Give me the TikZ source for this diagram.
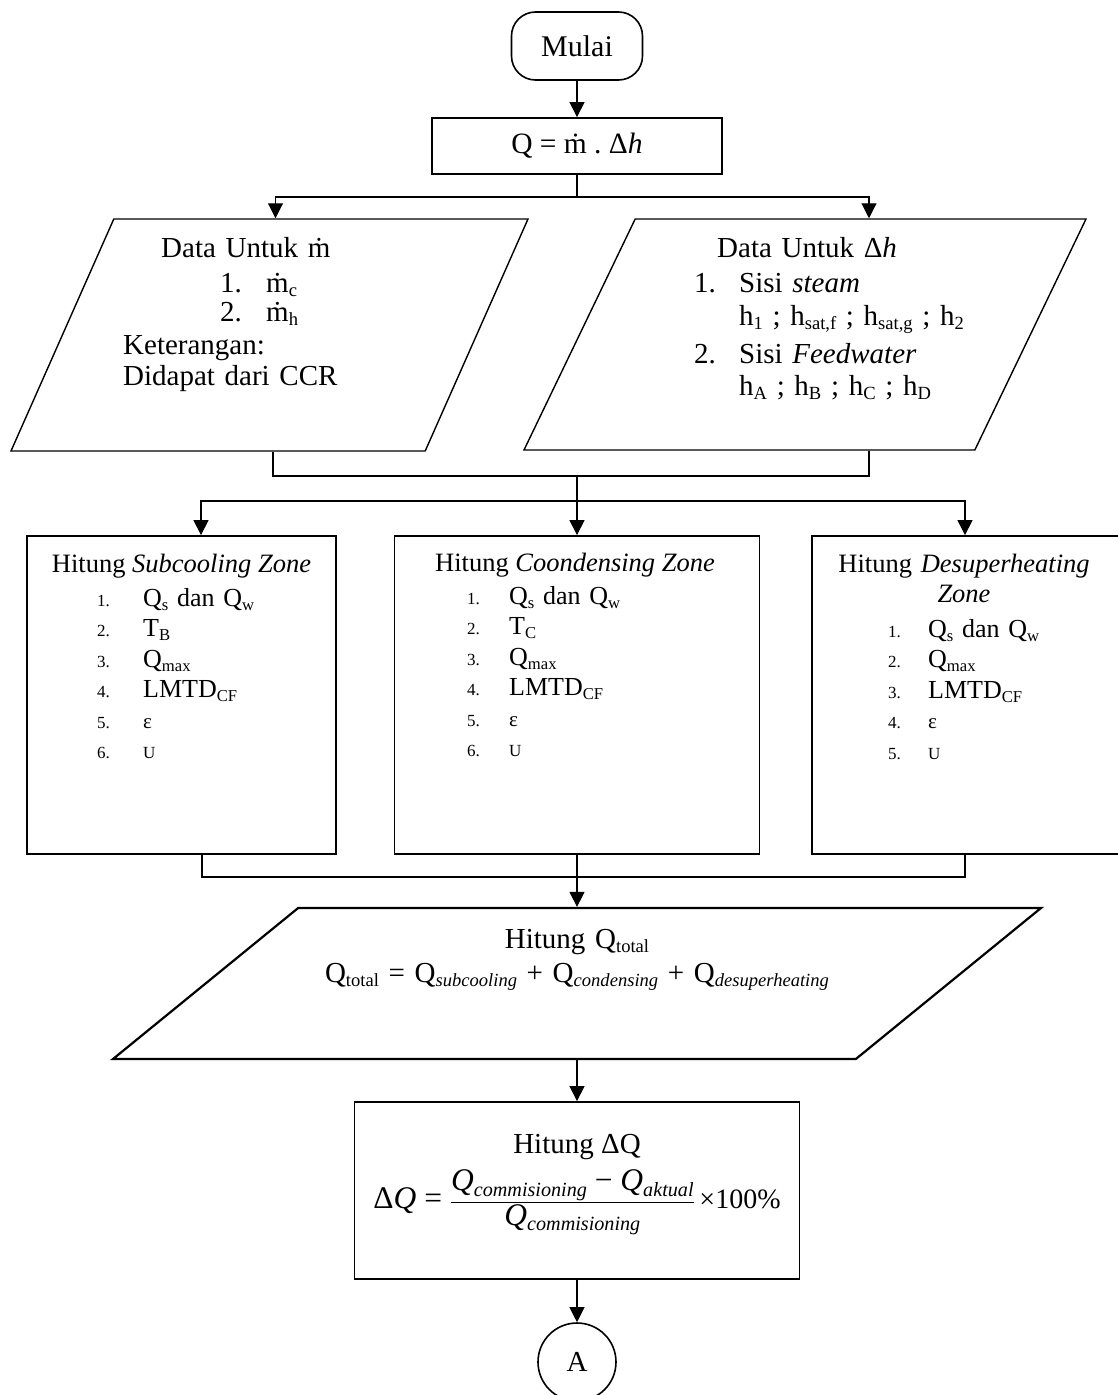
\documentclass[tikz,border=0pt]{standalone}
\usepackage{fontspec}
\setmainfont{Liberation Serif}
\usetikzlibrary{shapes.geometric, arrows.meta, positioning}

\newcommand\mdot{\accent"02D9 m}
\newcommand\fs[1]{\fontsize{#1}{#1}\selectfont}
\newcommand\itemno[2]{\makebox[#1][l]{\fontsize{17}{17}\selectfont #2}}
\makeatletter
\newcommand\lo[1]{\raisebox{-0.17em}{\fontsize{\strip@pt\dimexpr0.64\dimexpr\f@size pt\relax\relax}{0}\selectfont #1}}
\makeatother

\tikzstyle{terminal} = [rectangle, draw, line width=1.6pt, rounded corners=24pt,
                        minimum width=131pt, minimum height=68pt, font=\fs{30}]
\tikzstyle{process}  = [rectangle, draw, line width=1.8pt, inner sep=0pt]
\tikzstyle{io}       = [trapezium, draw, line width=1.4pt, trapezium stretches body, inner sep=0pt]
\tikzstyle{txt}      = [inner sep=0pt, anchor=base west, align=left]
\tikzstyle{arrow}    = [-{Triangle[length=15pt, width=15pt]}, line width=1.1pt]
\tikzstyle{link}     = [line width=1.1pt]

\begin{document}
\begin{tikzpicture}[x=1pt, y=-1pt]
  \useasboundingbox (0,0) rectangle (1118,1395);

  % Start
  \node[terminal] (mulai) at (577,46) {Mulai};
  \node[process, minimum width=290pt, minimum height=56pt, font=\fs{29.5}] (qbox) at (577,146)
    {Q = \mdot\ .\ Δ\textit{h}};

  % Input data
  \node[io, trapezium left angle=66.1, trapezium right angle=113.9,
        minimum width=517pt] (dm) at (269.5,335) {\rule{0pt}{232pt}};
  \node[io, trapezium left angle=64.3, trapezium right angle=115.7,
        minimum width=562pt] (dh) at (805,334.5) {\rule{0pt}{231pt}};

  \node[txt, text width=330pt, font=\fontsize{29}{28}\selectfont] (dmt) at (123,257)
    {\hspace*{38pt}Data Untuk \mdot\\[7pt]
     \hspace*{97pt}\makebox[46pt][l]{1.}\mdot\lo{c}\\[1pt]
     \hspace*{97pt}\makebox[46pt][l]{2.}\mdot\lo{h}\\[5pt]
     Keterangan:\\[3pt]
     Didapat dari CCR};
  \node[txt, text width=360pt, font=\fontsize{29}{28}\selectfont] (dht) at (694,257)
    {\hspace*{23pt}Data Untuk Δ\textit{h}\\[7pt]
     \makebox[45pt][l]{1.}Sisi \textit{steam}\\[5pt]
     \hspace*{45pt}h\lo{1} ; h\lo{sat,f} ; h\lo{sat,g} ; h\lo{2}\\[8pt]
     \makebox[45pt][l]{2.}Sisi \textit{Feedwater}\\[4pt]
     \hspace*{45pt}h\lo{A} ; h\lo{B} ; h\lo{C} ; h\lo{D}};

  % Zones
  \node[process, minimum width=309pt, minimum height=318pt] (sub) at (181.5,695) {};
  \node[process, minimum width=365pt, minimum height=318pt] (con) at (577,695) {};
  \node[process, minimum width=309pt, minimum height=318pt] (des) at (966.5,695) {};

  \node[txt, anchor=base, font=\fs{26.5}] (subt) at (181.5,572) {Hitung \textit{Subcooling Zone}};
  \node[txt, anchor=base, font=\fs{26.5}] (cont) at (575,571) {Hitung \textit{Coondensing Zone}};
  \node[txt, anchor=base, align=center, text width=290pt, font=\fontsize{26.5}{30}\selectfont]
    (dest) at (964,572) {Hitung \textit{Desuperheating}\\\textit{Zone}};

  \node[txt, text width=220pt, font=\fontsize{26}{30.5}\selectfont] (subl) at (97,606)
    {\itemno{46pt}{1.}Q\lo{s} dan Q\lo{w}\\
     \itemno{46pt}{2.}T\lo{B}\\
     \itemno{46pt}{3.}Q\lo{max}\\
     \itemno{46pt}{4.}LMTD\lo{CF}\\
     \itemno{46pt}{5.}{\fs{21}ε}\\
     \itemno{46pt}{6.}{\fs{17}U}};
  \node[txt, text width=240pt, font=\fontsize{26}{30.5}\selectfont] (conl) at (467,604)
    {\itemno{42pt}{1.}Q\lo{s} dan Q\lo{w}\\
     \itemno{42pt}{2.}T\lo{C}\\
     \itemno{42pt}{3.}Q\lo{max}\\
     \itemno{42pt}{4.}LMTD\lo{CF}\\
     \itemno{42pt}{5.}{\fs{21}ε}\\
     \itemno{42pt}{6.}{\fs{17}U}};
  \node[txt, text width=200pt, font=\fontsize{26}{30.5}\selectfont] (desl) at (888,637)
    {\itemno{40pt}{1.}Q\lo{s} dan Q\lo{w}\\
     \itemno{40pt}{2.}Q\lo{max}\\
     \itemno{40pt}{3.}LMTD\lo{CF}\\
     \itemno{40pt}{4.}{\fs{21}ε}\\
     \itemno{40pt}{5.}{\fs{17}U}};

  % Total
  \node[io, line width=2.2pt, trapezium left angle=39.2, trapezium right angle=140.8,
        minimum width=928pt] (qt) at (577,983.5) {\rule{0pt}{151pt}};
  \node[txt, anchor=base, align=center, text width=640pt, font=\fontsize{29}{34}\selectfont]
    (qtt) at (577,948)
    {Hitung Q\lo{total}\\
     Q\lo{total} = Q\lo{\textit{subcooling}} + Q\lo{\textit{condensing}}
     + Q\lo{\textit{desuperheating}}};

  % Delta Q
  \node[process, minimum width=445pt, minimum height=177pt] (dq) at (577,1190.5) {};
  \node[txt, anchor=base, font=\fs{29}] (dqt) at (577,1153) {Hitung ΔQ};
  \node[txt, anchor=base, font=\fs{31.5}] (dqf) at (577,1208)
    {$\displaystyle \mbox{Δ\textit{Q} = }
      \frac{\mbox{\textit{Q}\lo{\textit{commisioning}} − \textit{Q}\lo{\textit{aktual}}}}
           {\mbox{\textit{Q}\lo{\textit{commisioning}}}}\mbox{\fs{28}\,×100\%}$};

  % Off-page connector
  \node[circle, draw, line width=1.6pt, minimum size=78pt, inner sep=0pt, font=\fs{29}] (A) at (577,1362) {A};

  % Junctions
  \coordinate (s1) at (577,197);
  \coordinate (m1) at (577,476);
  \coordinate (s2) at (577,501);
  \coordinate (m2) at (577,877);

  % Arrows
  \draw[arrow] (mulai) -- (qbox);
  \draw[arrow] (qbox.south) -- (s1) -| ([xshift=6pt]dm.north);
  \draw[arrow] (s1) -| ([xshift=64pt]dh.north);
  \draw[link] ([xshift=3.5pt]dm.south) |- (m1) -| ([xshift=64pt]dh.south);
  \draw[link] (m1) -- (s2);
  \draw[arrow] (s2) -| ([xshift=19.5pt]sub.north);
  \draw[arrow] (s2) -- (con);
  \draw[arrow] (s2) -| ([xshift=-1.5pt]des.north);
  \draw[link] ([xshift=20.5pt]sub.south) |- (m2) -| ([xshift=-1.5pt]des.south);
  \draw[link] (con) -- (m2);
  \draw[arrow] (m2) -- (qt.north);
  \draw[arrow] (qt.south) -- (dq.north);
  \draw[arrow] (dq) -- (A);
\end{tikzpicture}
\end{document}
